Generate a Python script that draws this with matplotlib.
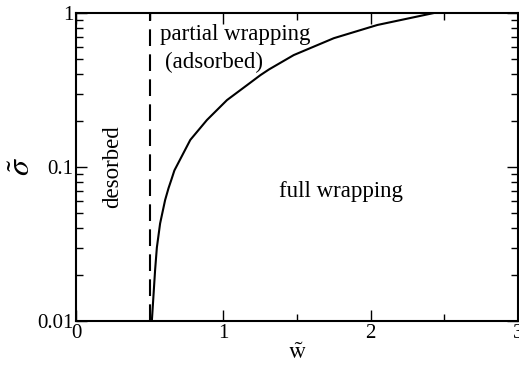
import numpy as np
import matplotlib.pyplot as plt
from matplotlib.ticker import FixedLocator, LogLocator, NullFormatter

plt.rcParams['font.family'] = ['Liberation Serif', 'DejaVu Serif']
plt.rcParams['mathtext.fontset'] = 'stix'

# boundary full / partial wrapping
w_curve = [0.515, 0.537, 0.549, 0.571, 0.605, 0.628, 0.648, 0.668, 0.776, 0.889,
           1.025, 1.161, 1.252, 1.31, 1.478, 1.75, 2.046, 2.43]
sigma_curve = [0.01, 0.0214, 0.030, 0.043, 0.061, 0.0728, 0.083, 0.095, 0.150, 0.202,
               0.272, 0.340, 0.395, 0.43, 0.533, 0.686, 0.836, 1.0]

# desorption line
w_desorb = 0.5

fig = plt.figure(figsize=(5.19, 3.68), dpi=100)
ax = fig.add_axes([0.1464, 0.1277, 0.8516, 0.837])

ax.plot(w_curve, sigma_curve, color='black', lw=1.5)
ax.axvline(w_desorb, color='black', lw=1.5, dashes=(8, 4))

ax.set_yscale('log')
ax.set_xlim(0, 3)
ax.set_ylim(0.01, 1)

ax.xaxis.set_major_locator(FixedLocator([0, 1, 2, 3]))
ax.xaxis.set_minor_locator(FixedLocator([0.5, 1.5, 2.5]))
ax.set_xticklabels(['0', '1', '2', '3'])
ax.yaxis.set_major_locator(FixedLocator([0.01, 0.1, 1]))
ax.yaxis.set_minor_locator(LogLocator(base=10, subs=np.arange(2, 10)))
ax.yaxis.set_minor_formatter(NullFormatter())
ax.set_yticklabels(['0.01', '0.1', '1'])

ax.tick_params(which='both', direction='in', top=True, right=True,
               labelsize=15, color='black', width=1.0)
ax.tick_params(which='major', length=8, pad=2)
ax.tick_params(which='minor', length=5)
for s in ax.spines.values():
    s.set_linewidth(1.5)

ax.set_xlabel(r'$\tilde{\mathrm{w}}$', fontsize=17, labelpad=0)
ax.set_ylabel(r'$\tilde{\sigma}$', fontsize=23, labelpad=0)

ax.text(0.25, 0.1, 'desorbed', rotation=90, fontsize=16.5, ha='center', va='center')
ax.text(0.571, 0.72, 'partial wrapping', fontsize=16.5, ha='left', va='center')
ax.text(0.605, 0.48, '(adsorbed)', fontsize=16.5, ha='left', va='center')
ax.text(1.8, 0.069, 'full wrapping', fontsize=16.5, ha='center', va='center')

fig.savefig('out.png', dpi=100)
